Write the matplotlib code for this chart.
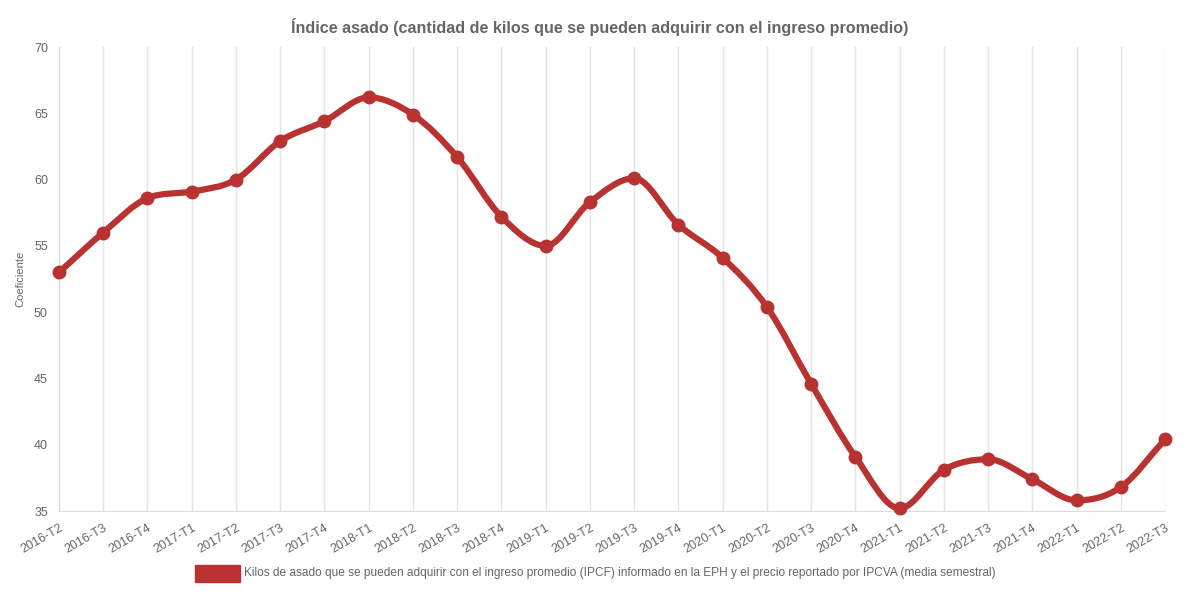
import numpy as np
import matplotlib.pyplot as plt
from matplotlib.path import Path
from matplotlib.patches import PathPatch, Rectangle

plt.rcParams["font.family"] = ["Liberation Sans", "DejaVu Sans"]

# Data
periodos = ["2016-T2", "2016-T3", "2016-T4", "2017-T1", "2017-T2", "2017-T3", "2017-T4",
            "2018-T1", "2018-T2", "2018-T3", "2018-T4", "2019-T1", "2019-T2", "2019-T3",
            "2019-T4", "2020-T1", "2020-T2", "2020-T3", "2020-T4", "2021-T1", "2021-T2",
            "2021-T3", "2021-T4", "2022-T1", "2022-T2", "2022-T3"]
kilos = [53.0, 56.0, 58.6, 59.1, 60.0, 62.9, 64.4, 66.2, 64.9, 61.7, 57.2, 55.0, 58.3,
         60.1, 56.6, 54.1, 50.4, 44.6, 39.1, 35.2, 38.1, 38.9, 37.4, 35.8, 36.8, 40.4]
serie = "Kilos de asado que se pueden adquirir con el ingreso promedio (IPCF) informado en la EPH y el precio reportado por IPCVA (media semestral)"
titulo = "Índice asado (cantidad de kilos que se pueden adquirir con el ingreso promedio)"

color = "#b83232"
gris = "#666666"

fig = plt.figure(figsize=(12, 6), dpi=100)
ax = fig.add_axes([59 / 1200, 1 - 511 / 600, (1165 - 59) / 1200, (511 - 47) / 600])

x = np.arange(len(periodos), dtype=float)
y = np.array(kilos)
ax.set_xlim(0, len(periodos) - 1)
ax.set_ylim(35, 70)

# monotone cubic interpolation (Fritsch-Carlson)
n = len(x)
delta = np.diff(y) / np.diff(x)
m = np.zeros(n)
m[0], m[-1] = delta[0], delta[-1]
for i in range(1, n - 1):
    if delta[i - 1] * delta[i] <= 0:
        m[i] = 0
    else:
        m[i] = (delta[i - 1] + delta[i]) / 2
for i in range(n - 1):
    if delta[i] == 0:
        m[i] = m[i + 1] = 0
        continue
    a, b = m[i] / delta[i], m[i + 1] / delta[i]
    sq = a * a + b * b
    if sq > 9:
        tau = 3 / np.sqrt(sq)
        m[i] = a * tau * delta[i]
        m[i + 1] = b * tau * delta[i]
verts = [(x[0], y[0])]
codes = [Path.MOVETO]
for i in range(1, n):
    h = (x[i] - x[i - 1]) / 3
    verts += [(x[i - 1] + h, y[i - 1] + m[i - 1] * h), (x[i] - h, y[i] - m[i] * h), (x[i], y[i])]
    codes += [Path.CURVE4] * 3
ax.add_patch(PathPatch(Path(verts, codes), facecolor="none", edgecolor=color,
                       lw=4.5, capstyle="round", joinstyle="round", zorder=3))
ax.plot(x, y, "o", color=color, ms=9, zorder=4, clip_on=False)

ax.set_xticks(x)
ax.set_xticklabels(periodos, rotation=30, ha="right", rotation_mode="anchor",
                   fontsize=9, color=gris)
ax.set_yticks(range(35, 71, 5))
ax.tick_params(axis="y", labelsize=9, labelcolor=gris, length=0, pad=8)
ax.tick_params(axis="x", length=0, pad=8)
ax.grid(axis="x", color="#e5e5e5", lw=1)
ax.set_axisbelow(True)
for s in ["top", "right"]:
    ax.spines[s].set_visible(False)
ax.spines["left"].set_color("#dddddd")
ax.spines["bottom"].set_color("#dddddd")
ax.set_ylabel("Coeficiente", fontsize=8, color=gris, labelpad=6)

fig.text(0.5, 1 - 27 / 600, titulo, ha="center", va="center", fontsize=11.6,
         fontweight="bold", color=gris)

fig.add_artist(Rectangle((195 / 1200, 1 - 582 / 600), 45 / 1200, 17 / 600,
                         transform=fig.transFigure, color=color))
fig.text(244 / 1200, 1 - 573 / 600, serie, ha="left", va="center", fontsize=8.6, color=gris)

fig.savefig("out.png", dpi=100)
